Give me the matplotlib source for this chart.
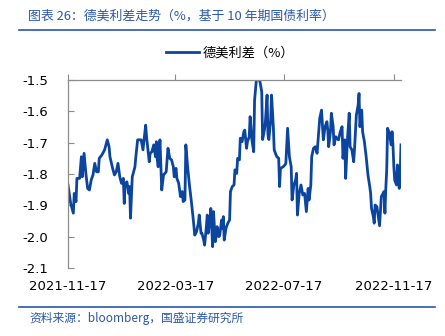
import numpy as np
import pandas as pd
import matplotlib
matplotlib.use("Agg")
import matplotlib.pyplot as plt
from matplotlib.lines import Line2D

plt.rcParams['font.family'] = ['DejaVu Sans', 'Noto Sans CJK SC']

# data: days since 2021-11-17, spread (%)
start = pd.Timestamp("2021-11-17")
days = [0, 3, 6, 7, 9, 10, 13, 15, 16, 18, 20, 22, 24, 26, 28, 30, 32, 34, 35, 38,
        41, 44, 46, 47, 50, 52, 54, 56, 58, 60, 62, 63, 64, 66, 68, 69, 70, 72, 75, 76,
        78, 80, 82, 84, 87, 88, 91, 92, 94, 96, 98, 99, 100, 101, 103, 105, 107, 110, 112, 114,
        116, 118, 119, 121, 122, 124, 126, 128, 129, 131, 132, 134, 136, 138, 140, 142, 144, 146, 147, 149,
        150, 152, 153, 155, 156, 157, 159, 160, 162, 163, 165, 166, 167, 169, 170, 172, 173, 174, 175, 177,
        179, 181, 182, 184, 186, 187, 189, 190, 192, 193, 195, 197, 198, 200, 201, 203, 204, 206, 208,
        209, 211, 213, 215, 217, 218, 220, 221, 223, 224, 225, 227, 228, 230, 231, 233, 234, 236, 237, 238,
        241, 243, 244, 246, 248, 250, 251, 253, 255, 256, 257, 259, 261, 263, 265, 267, 269, 270, 272, 273,
        275, 277, 279, 281, 282, 284, 286, 288, 290, 291, 292, 294, 295, 297, 298, 300, 301, 303, 305, 307,
        308, 310, 311, 313, 315, 316, 318, 320, 321, 323, 325, 326, 327, 329, 330, 332, 334, 336, 338, 339,
        340, 342, 343, 344, 346, 347, 349, 351, 352, 354, 355, 356, 357, 358, 360, 362, 363, 364, 365, 366,
        368, 369, 371, 372, 373]
spread = [-1.835, -1.894, -1.925, -1.862, -1.888, -1.814, -1.814, -1.745, -1.809, -1.734,
          -1.798, -1.846, -1.851, -1.819, -1.803, -1.766, -1.793, -1.793, -1.750, -1.739,
          -1.723, -1.691, -1.713, -1.745, -1.782, -1.803, -1.793, -1.766, -1.809, -1.830,
          -1.814, -1.894, -1.830, -1.825, -1.862, -1.840, -1.941, -1.809, -1.777, -1.745,
          -1.691, -1.691, -1.691, -1.723, -1.644, -1.681, -1.761, -1.734, -1.729, -1.707,
          -1.745, -1.697, -1.755, -1.777, -1.691, -1.851, -1.803, -1.793, -1.718, -1.750,
          -1.755, -1.777, -1.809, -1.782, -1.814, -1.830, -1.872, -1.856, -1.888, -1.883,
          -1.707, -1.777, -1.835, -1.883, -1.936, -1.995, -1.984, -1.957, -1.931, -1.989,
          -1.989, -2.011, -2.027, -1.968, -1.931, -1.989, -1.947, -1.910, -2.032, -1.920,
          -2.016, -2.000, -1.968, -2.000, -1.995, -1.947, -1.973, -1.936, -2.011, -1.973,
          -1.957, -1.947, -1.856, -1.840, -1.835, -1.787, -1.798, -1.750, -1.755, -1.686,
          -1.697, -1.665, -1.660, -1.718, -1.697, -1.681, -1.617, -1.691, -1.729,
          -1.564, -1.500, -1.495, -1.505, -1.537, -1.690, -1.660, -1.638, -1.548, -1.675,
          -1.690, -1.628, -1.548, -1.649, -1.723, -1.739, -1.745, -1.750, -1.840, -1.782,
          -1.777, -1.771, -1.766, -1.654, -1.745, -1.777, -1.883, -1.835, -1.819, -1.798,
          -1.931, -1.862, -1.835, -1.867, -1.862, -1.920, -1.846, -1.883, -1.835, -1.745,
          -1.718, -1.713, -1.734, -1.660, -1.622, -1.596, -1.691, -1.649, -1.633, -1.660,
          -1.713, -1.665, -1.606, -1.649, -1.707, -1.681, -1.686, -1.691, -1.665, -1.649,
          -1.750, -1.691, -1.814, -1.691, -1.606, -1.713, -1.723, -1.761, -1.718, -1.612,
          -1.580, -1.543, -1.649, -1.596, -1.665, -1.697, -1.745, -1.803, -1.840, -1.862,
          -1.910, -1.936, -1.957, -1.899, -1.904, -1.925, -1.965, -1.872, -1.867, -1.856,
          -1.925, -1.846, -1.787, -1.654, -1.670, -1.707, -1.665, -1.707, -1.777, -1.820,
          -1.835, -1.771, -1.846, -1.809, -1.707]
tick_dates = ["2021-11-17", "2022-03-17", "2022-07-17", "2022-11-17"]
y_ticks = [-2.1, -2.0, -1.9, -1.8, -1.7, -1.6, -1.5]

dates = start + pd.to_timedelta(days, unit="D")
blue = "#0B45A0"
title_blue = "#2A58A8"
cjk = ['Noto Sans CJK SC', 'DejaVu Sans']

fig = plt.figure(figsize=(4.45, 3.36), dpi=100)
ax = fig.add_axes([0.1528, 0.2024, 0.9011 - 0.1528, 0.7619 - 0.2024])

ax.plot(dates, spread, color=blue, lw=2.0, label="德美利差（%）")
ax.set_ylim(-2.1, -1.5)
ax.set_xlim(start, pd.Timestamp("2022-11-25"))
ax.set_yticks(y_ticks)
ax.set_yticklabels([f"{v:.1f}" for v in y_ticks])
ax.set_xticks(pd.to_datetime(tick_dates))
ax.set_xticklabels(tick_dates)

for s in ["right", "bottom"]:
    ax.spines[s].set_visible(False)
for s in ["left", "top"]:
    ax.spines[s].set_color("#8C8C8C")
    ax.spines[s].set_linewidth(0.9)
ax.tick_params(axis="x", bottom=False, top=True, labelbottom=True, labeltop=False,
               direction="out", length=4, color="#8C8C8C", labelsize=9.5, pad=5)
ax.tick_params(axis="y", direction="in", length=4, color="#8C8C8C", labelsize=9.5, pad=14)

fig.legend(handles=[Line2D([0], [0], color=blue, lw=2.0)], labels=["德美利差（%）"],
           loc="center", bbox_to_anchor=(0.517, 0.842), frameon=False,
           handlelength=2.5, handletextpad=0.3, prop={"family": cjk, "size": 9.5})

fig.text(0.063, 0.952, "图表 26：德美利差走势（%，基于 10 年期国债利率）", color=title_blue,
         fontsize=9.3, family=cjk, style="italic", va="center", ha="left")
fig.add_artist(Line2D([0.043, 0.978], [0.911, 0.911], color=title_blue, lw=1.2))
fig.add_artist(Line2D([0.043, 0.978], [0.086, 0.086], color=title_blue, lw=1.2))
fig.text(0.066, 0.051, "资料来源：bloomberg，国盛证券研究所", color=title_blue,
         fontsize=8.5, family=cjk, style="italic", va="center", ha="left")

fig.savefig("out.png", dpi=100)
